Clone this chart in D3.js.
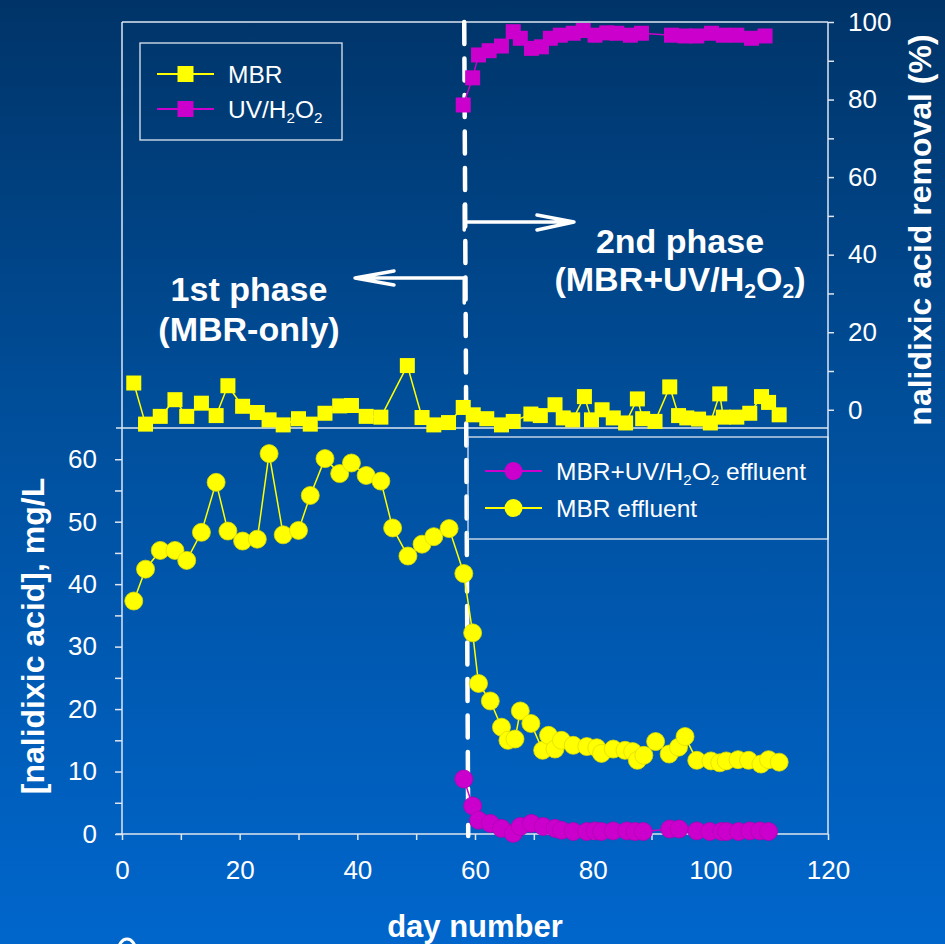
<!DOCTYPE html>
<html>
<head>
<meta charset="utf-8">
<script src="https://cdn.jsdelivr.net/npm/d3@7"></script>
<style>
  html, body { margin: 0; padding: 0; background: #0050a0; }
  svg { display: block; font-family: "Liberation Sans", Arial, sans-serif; }
</style>
</head>
<body>
<svg id="chart" width="945" height="944"></svg>
<script>
// top panel: removal (%), squares
var mbrRemovalDays = [2, 4, 6.5, 9, 11, 13.5, 16, 18, 20.5, 23, 25, 27.4, 30, 32, 34.5, 37, 39, 41.5, 44, 48.5, 51, 53, 55.5, 58,
  59.7, 62, 64.5, 66.5, 69.5, 71.1, 73.6, 75, 76.6, 78.6, 79.8, 81.6, 83.5, 85.6, 87.6, 88.5, 90.6, 93.1, 94.6, 96, 98, 100,
  101.6, 102.2, 104.5, 106.7, 108.7, 109.9, 111.7];
var mbrRemoval = [6.9, -3.7, -1.7, 2.6, -1.7, 1.7, -1.5, 6.2, 0.9, -0.7, -2.6, -3.9, -2.3, -3.7, -0.9, 1.0, 1.1, -1.7, -1.9, 11.4, -2.0, -3.9, -3.3, 0.6,
  -1.3, -2.3, -3.9, -3.0, -1.1, -1.5, 1.3, -2.1, -2.6, 3.4, -2.6, 0, -2.1, -3.4, 2.8, -2.3, -3.0, 5.9, -1.5, -2.1, -2.4, -3.4,
  4.1, -1.9, -1.9, -0.9, 3.4, 1.9, -1.3];

var uvRemovalDays = [58, 59.6, 60.6, 62.4, 64.5, 66.5, 67.7, 69.6, 71.3, 72.8, 74.5, 76.7, 78.4, 80.4, 82.4, 84.1, 86.4, 88.3,
  93.4, 95.7, 97.7, 100.2, 102.2, 104.5, 107, 109.3];
var uvRemoval = [78.6, 85.6, 91.5, 92.6, 93.8, 97.5, 95.8, 93.2, 93.6, 95.8, 96.6, 97.1, 97.8, 96.6, 97.2, 97.1, 96.6, 97.1,
  96.6, 96.4, 96.4, 97.1, 96.6, 96.6, 95.8, 96.4];

// bottom panel: concentration (mg/L), circles
var mbrEffDays = [2, 4, 6.5, 9, 11, 13.5, 16, 18, 20.5, 23, 25, 27.4, 30, 32, 34.5, 37, 39, 41.5, 44, 46, 48.6, 51, 53, 55.6, 58.1,
  59.6, 60.6, 62.6, 64.5, 65.6, 66.8, 67.7, 69.5, 71.5, 72.5, 73.6, 74.7, 76.7, 79, 80.7, 81.5, 83.5, 85.5, 86.8, 87.6, 88.7,
  90.7, 93, 94.6, 95.7, 97.7, 100.1, 101.6, 102.7, 104.7, 106.5, 108.6, 109.9, 111.7];
var mbrEff = [37.3, 42.4, 45.4, 45.4, 43.8, 48.3, 56.3, 48.5, 46.9, 47.2, 60.9, 47.9, 48.6, 54.2, 60.1, 57.7, 59.4, 57.4, 56.5, 49.0, 44.5, 46.4, 47.6, 48.9, 41.7,
  32.2, 24.1, 21.3, 17.1, 15.0, 15.2, 19.7, 17.7, 13.4, 15.8, 13.6, 15.0, 14.2, 14.0, 13.8, 12.9, 13.6, 13.4, 13.2, 11.8, 12.6,
  14.8, 12.8, 13.9, 15.6, 11.8, 11.7, 11.4, 11.7, 11.9, 11.8, 11.2, 11.9, 11.5];

var uvEffDays = [58.1, 59.6, 60.6, 62.6, 64.5, 66.5, 67.7, 69.6, 71.6, 73.6, 74.7, 76.7, 79, 80.4, 81.5, 83.5, 85.8, 87.2, 88.6,
  93.1, 94.7, 97.7, 99.9, 101.9, 102.8, 104.8, 106.7, 108.4, 109.9];
var uvEff = [8.8, 4.5, 2.2, 1.7, 0.9, 0.1, 1.2, 1.7, 1.2, 0.9, 0.6, 0.4, 0.4, 0.5, 0.4, 0.5, 0.5, 0.4, 0.4,
  0.8, 0.8, 0.5, 0.4, 0.4, 0.4, 0.4, 0.5, 0.5, 0.4];

var xTicks = [0, 20, 40, 60, 80, 100, 120];
var leftTicks = [0, 10, 20, 30, 40, 50, 60];
var rightTicks = [0, 20, 40, 60, 80, 100];
var phaseChangeDay = 58;

var yellow = "#ffff00", magenta = "#cc00cc", axisCol = "#dfe6f0";

function zip(xs, ys) { return xs.map(function(d, i) { return { x: d, y: ys[i] }; }); }

var svg = d3.select("#chart");

var defs = svg.append("defs");
var grad = defs.append("linearGradient").attr("id", "bg").attr("x1", 0).attr("y1", 0).attr("x2", 0).attr("y2", 1);
grad.append("stop").attr("offset", "0%").attr("stop-color", "#003468");
grad.append("stop").attr("offset", "45%").attr("stop-color", "#004f9c");
grad.append("stop").attr("offset", "100%").attr("stop-color", "#0066cc");
svg.append("rect").attr("width", 945).attr("height", 944).attr("fill", "url(#bg)");

var x = d3.scaleLinear().domain([0, 120]).range([122, 828]);
var yB = d3.scaleLinear().domain([0, 65]).range([834, 428]);
var yT = d3.scaleLinear().domain([-4.7, 100]).range([428, 22]);

// frame lines
var frame = svg.append("g").attr("stroke", axisCol).attr("stroke-width", 1.5);
frame.append("line").attr("x1", x(0)).attr("x2", x(120)).attr("y1", yT(100)).attr("y2", yT(100));
frame.append("line").attr("x1", x(0) - 6).attr("x2", x(120)).attr("y1", yB(65)).attr("y2", yB(65));
frame.append("line").attr("x1", x(0)).attr("x2", x(0)).attr("y1", yT(100)).attr("y2", yB(0));
frame.append("line").attr("x1", x(120)).attr("x2", x(120)).attr("y1", yT(100)).attr("y2", yB(0));

function styleAxis(g, size) {
  g.select(".domain").remove();
  g.selectAll(".tick line").attr("stroke", axisCol).attr("stroke-width", 1.5);
  g.selectAll(".tick text").attr("fill", "#fff").attr("font-size", size);
}

var gx = svg.append("g").attr("transform", "translate(0," + yB(0) + ")")
  .call(d3.axisBottom(x).tickValues(d3.range(0, 121, 10)).tickSize(6).tickPadding(21)
    .tickFormat(function(d) { return xTicks.indexOf(d) >= 0 ? d : ""; }));
gx.select(".domain").attr("d", "M" + (x(0) - 6) + ",0H" + x(120));
gx.select(".domain").attr("stroke", axisCol).attr("stroke-width", 1.5);
gx.selectAll(".tick line").attr("stroke", axisCol).attr("stroke-width", 1.5);
gx.selectAll(".tick text").attr("fill", "#fff").attr("font-size", 26);

var gl = svg.append("g").attr("transform", "translate(" + x(0) + ",0)")
  .call(d3.axisLeft(yB).tickValues(d3.range(0, 61, 5)).tickSize(7).tickPadding(18)
    .tickFormat(function(d) { return leftTicks.indexOf(d) >= 0 ? d : ""; }));
styleAxis(gl, 26);

var gr = svg.append("g").attr("transform", "translate(" + x(120) + ",0)")
  .call(d3.axisRight(yT).tickValues(d3.range(0, 101, 10)).tickSize(6).tickPadding(14)
    .tickFormat(function(d) { return rightTicks.indexOf(d) >= 0 ? d : ""; }));
styleAxis(gr, 26);

// axis titles
svg.append("text").attr("x", 475).attr("y", 937).attr("text-anchor", "middle")
  .attr("fill", "#fff").attr("font-size", 31).attr("font-weight", "bold").text("day number");
svg.append("text").attr("transform", "translate(44,636) rotate(-90)").attr("text-anchor", "middle")
  .attr("fill", "#fff").attr("font-size", 32).attr("font-weight", "bold").text("[nalidixic acid], mg/L");
svg.append("text").attr("transform", "translate(931,230) rotate(-90)").attr("text-anchor", "middle")
  .attr("fill", "#fff").attr("font-size", 32).attr("font-weight", "bold").text("nalidixic acid removal (%)");
// slide artefact: top of a letter cut by the bottom edge
svg.append("ellipse").attr("cx", 127).attr("cy", 952).attr("rx", 9).attr("ry", 13)
  .attr("fill", "none").attr("stroke", "#fff").attr("stroke-width", 3);

// phase marker
var xp = x(phaseChangeDay);
svg.append("line").attr("x1", xp + 1).attr("x2", xp + 5).attr("y1", 22).attr("y2", 836)
  .attr("stroke", "#fff").attr("stroke-width", 4.5).attr("stroke-linecap", "round")
  .attr("stroke-dasharray", "22 14.5");
var arr = svg.append("g").attr("stroke", "#fff").attr("stroke-width", 3.5)
  .attr("stroke-linecap", "round").attr("fill", "none");
arr.append("path").attr("d", "M" + (xp + 1) + ",205V230M" + (xp + 1) + ",222H574M537,215L574,222L537,230");
arr.append("path").attr("d", "M" + (xp + 1) + ",303V278H355M394,271L355,278L394,285");

// text with subscripts; fs is the parent font size in px
function richText(g, parts, fs) {
  var shift = fs * 0.22, back = 0;
  parts.forEach(function(p) {
    if (typeof p === "string") {
      var t = g.append("tspan").text(p);
      if (back) t.attr("dy", -back);
      back = 0;
    } else {
      g.append("tspan").attr("font-size", fs * 0.62).attr("dy", shift - back).text(p.sub);
      back = shift;
    }
  });
  return g;
}
var phaseTxt = svg.append("g").attr("fill", "#fff").attr("font-weight", "bold").attr("font-size", 34).attr("text-anchor", "middle");
phaseTxt.append("text").attr("x", 249).attr("y", 301).text("1st phase");
phaseTxt.append("text").attr("x", 249).attr("y", 341).text("(MBR-only)");
phaseTxt.append("text").attr("x", 680).attr("y", 253).text("2nd phase");
richText(phaseTxt.append("text").attr("x", 680).attr("y", 291), ["(MBR+UV/H", { sub: "2" }, "O", { sub: "2" }, ")"], 34);

// series
function drawSeries(data, yScale, color, shape) {
  var g = svg.append("g");
  g.append("path").datum(data).attr("fill", "none").attr("stroke", color).attr("stroke-width", 1.5)
    .attr("d", d3.line().x(function(d) { return x(d.x); }).y(function(d) { return yScale(d.y); }));
  if (shape === "square") {
    g.selectAll("rect").data(data).enter().append("rect")
      .attr("x", function(d) { return x(d.x) - 7.5; }).attr("y", function(d) { return yScale(d.y) - 7.5; })
      .attr("width", 15).attr("height", 15).attr("fill", color);
  } else {
    g.selectAll("circle").data(data).enter().append("circle")
      .attr("cx", function(d) { return x(d.x); }).attr("cy", function(d) { return yScale(d.y); })
      .attr("r", 9).attr("fill", color).attr("stroke", d3.color(color).darker(0.4)).attr("stroke-width", 0.8);
  }
}
drawSeries(zip(mbrRemovalDays, mbrRemoval), yT, yellow, "square");
drawSeries(zip(uvRemovalDays, uvRemoval), yT, magenta, "square");
drawSeries(zip(mbrEffDays, mbrEff), yB, yellow, "circle");
drawSeries(zip(uvEffDays, uvEff), yB, magenta, "circle");

// legends
function legend(box, items, shape) {
  var g = svg.append("g");
  g.append("rect").attr("x", box[0]).attr("y", box[1]).attr("width", box[2]).attr("height", box[3])
    .attr("fill", "none").attr("stroke", axisCol).attr("stroke-width", 1.3);
  items.forEach(function(it) {
    g.append("line").attr("x1", it.lx).attr("x2", it.lx + 57).attr("y1", it.y).attr("y2", it.y)
      .attr("stroke", it.color).attr("stroke-width", 1.8);
    if (shape === "square") {
      g.append("rect").attr("x", it.lx + 28.5 - 8).attr("y", it.y - 8).attr("width", 16).attr("height", 16).attr("fill", it.color);
    } else {
      g.append("circle").attr("cx", it.lx + 28.5).attr("cy", it.y).attr("r", 9).attr("fill", it.color);
    }
    richText(g.append("text").attr("x", it.lx + 71).attr("y", it.y + 9).attr("fill", "#fff").attr("font-size", 24.5), it.label, 24.5);
  });
}
legend([140, 43, 202, 97], [
  { lx: 157, y: 74, color: yellow, label: ["MBR"] },
  { lx: 157, y: 109, color: magenta, label: ["UV/H", { sub: "2" }, "O", { sub: "2" }] }
], "square");
legend([468, 437, 360, 102], [
  { lx: 485, y: 471, color: magenta, label: ["MBR+UV/H", { sub: "2" }, "O", { sub: "2" }, " effluent"] },
  { lx: 485, y: 508, color: yellow, label: ["MBR effluent"] }
], "circle");
</script>
</body>
</html>
